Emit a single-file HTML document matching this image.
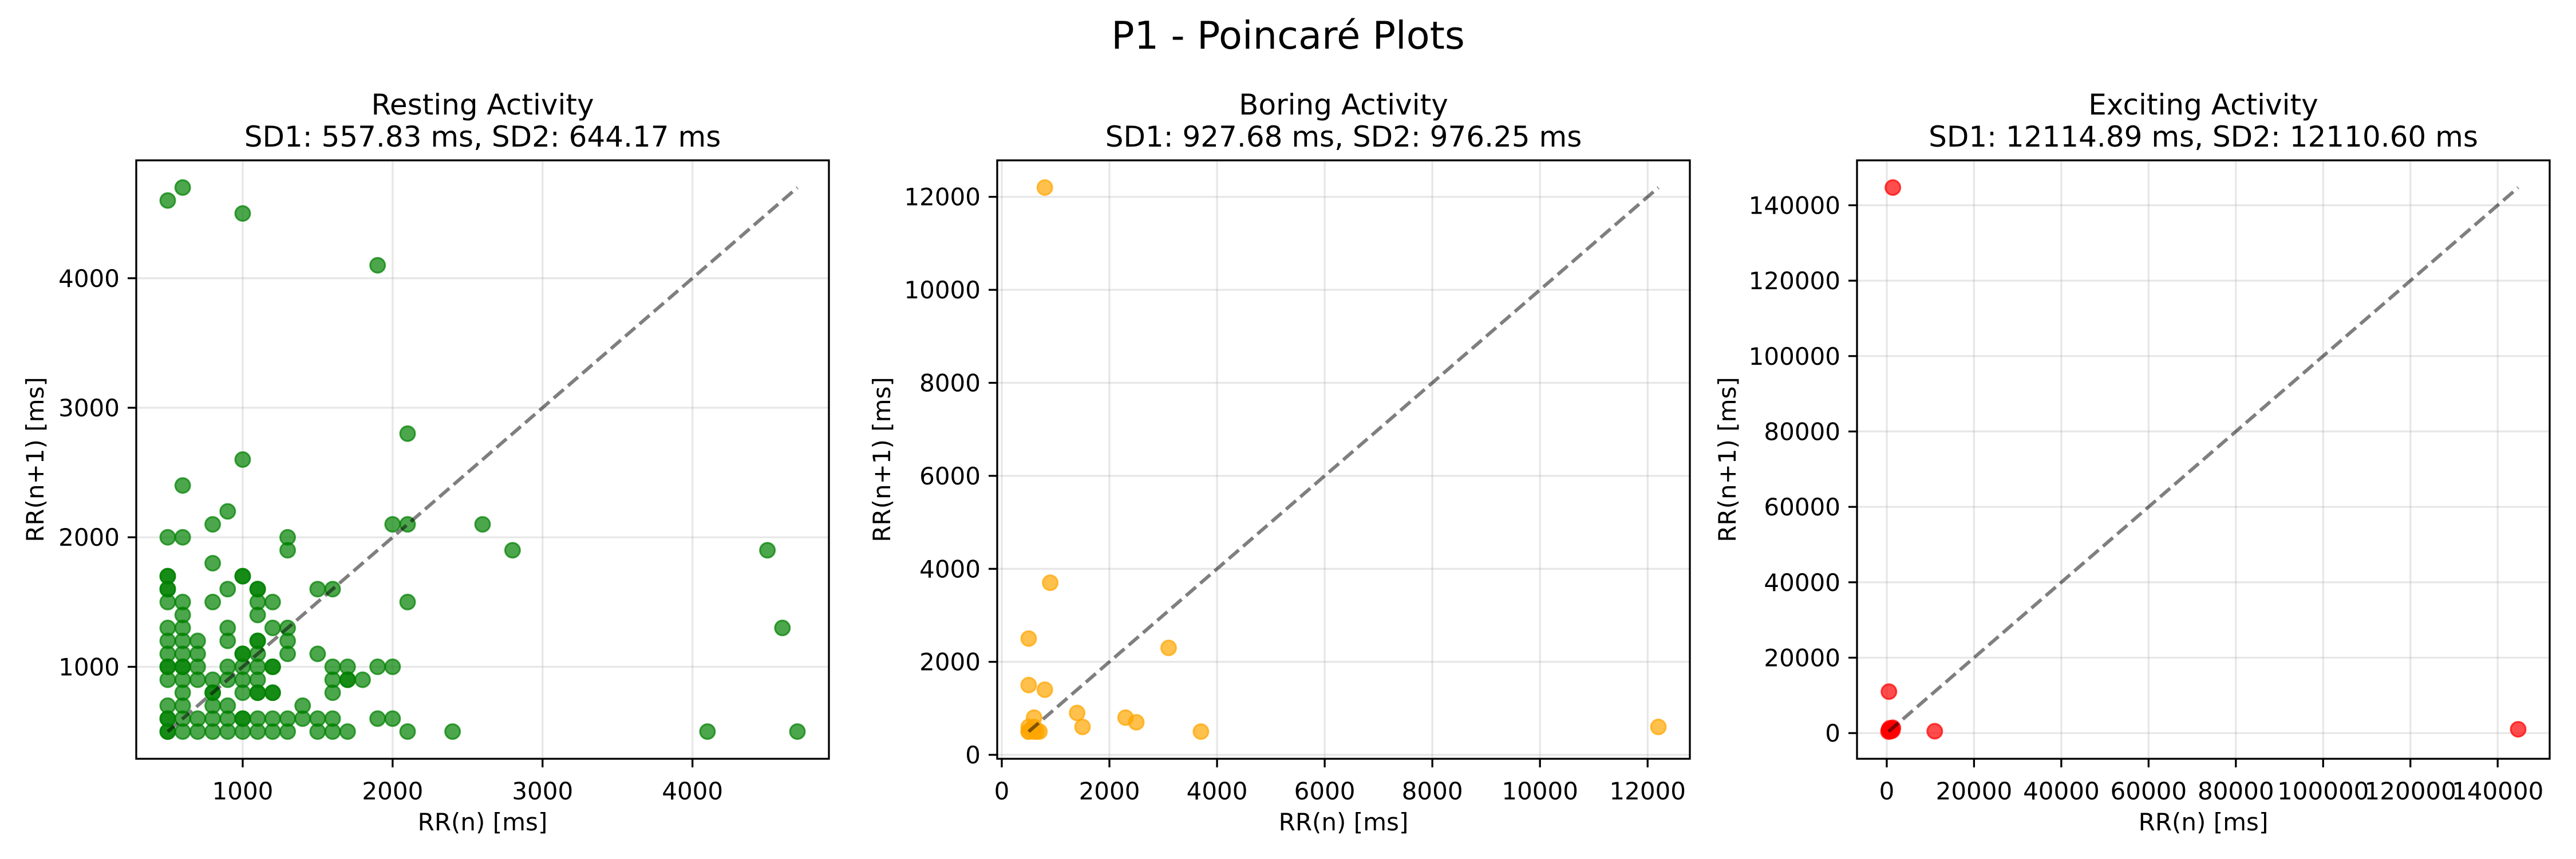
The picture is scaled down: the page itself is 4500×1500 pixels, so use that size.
<!DOCTYPE html>
<html><head><meta charset="utf-8">
<style>
html,body{margin:0;padding:0;background:#fff;}
svg{display:block;font-family:"DejaVu Sans","Liberation Sans",sans-serif;}
</style></head>
<body>
<svg id="chart" width="4500" height="1500" viewBox="0 0 4500 1500" xmlns="http://www.w3.org/2000/svg">
<rect width="4500" height="1500" fill="#fff"/>
<text x="2250" y="85" font-size="67" text-anchor="middle">P1 - Poincaré Plots</text>
</svg>
<script>
// ---- Panel 1: Resting ----
const restX = [500,600,1000,1900,2100,1000,600,900,800,2000,2100,2600,500,600,1300,1300,2800,4500,800,500,500,1000,1000,500,500,900,1100,1100,1500,1600,500,600,800,1100,1200,2100,600,1100,500,600,900,1200,1300,4600,500,600,700,900,1100,1100,1300,500,600,700,1000,1000,1100,1300,1500,500,500,600,600,700,900,1000,1100,1200,1200,1600,1700,1900,2000,500,600,700,800,900,1000,1100,1600,1700,1700,1800,600,800,800,1000,1100,1100,1200,1200,1600,500,600,800,900,1400,500,500,600,700,800,900,1000,1000,1100,1200,1300,1400,1500,1600,1900,2000,500,500,600,700,800,900,1000,1100,1200,1300,1500,1600,1700,2100,2400,4100,4700];
const restY = [4600,4700,4500,4100,2800,2600,2400,2200,2100,2100,2100,2100,2000,2000,2000,1900,1900,1900,1800,1700,1700,1700,1700,1600,1600,1600,1600,1600,1600,1600,1500,1500,1500,1500,1500,1500,1400,1400,1300,1300,1300,1300,1300,1300,1200,1200,1200,1200,1200,1200,1200,1100,1100,1100,1100,1100,1100,1100,1100,1000,1000,1000,1000,1000,1000,1000,1000,1000,1000,1000,1000,1000,1000,900,900,900,900,900,900,900,900,900,900,900,800,800,800,800,800,800,800,800,800,700,700,700,700,700,600,600,600,600,600,600,600,600,600,600,600,600,600,600,600,600,500,500,500,500,500,500,500,500,500,500,500,500,500,500,500,500,500];
const restXTicks = [1000,2000,3000,4000];
const restYTicks = [1000,2000,3000,4000];
// ---- Panel 2: Boring ----
const boreX = [800,900,500,3100,500,800,1400,2300,2500,600,1500,3700,12200,500,500,600,700,550,500,600,650];
const boreY = [12200,3700,2500,2300,1500,1400,900,800,700,800,600,500,600,500,600,500,500,550,500,600,500];
const boreTicks = [0,2000,4000,6000,8000,10000,12000];
// ---- Panel 3: Exciting ----
const excX = [1400,500,11000,144700,400,600,800,1000,1200,1400,500,900,1300,700];
const excY = [144700,11000,500,1000,400,600,800,1000,1200,1400,900,500,700,1300];
const excTicks = [0,20000,40000,60000,80000,100000,120000,140000];

const NS = "http://www.w3.org/2000/svg";
const svg = document.getElementById('chart');
function mk(tag, attrs, parent){
  const e = document.createElementNS(NS, tag);
  for (const k in attrs) e.setAttribute(k, attrs[k]);
  (parent||svg).appendChild(e);
  return e;
}
function lim(arr){ const mn=Math.min(...arr), mx=Math.max(...arr), m=(mx-mn)*0.05; return [mn-m, mx+m]; }

function panel(cfg){
  const L=cfg.left, R=cfg.left+1210, T=280, B=1325;
  const g = mk('g', {});
  
  
  const xl = lim(cfg.x), yl = lim(cfg.y);
  const sx = v => L + (v - xl[0]) / (xl[1]-xl[0]) * (R-L);
  const sy = v => B - (v - yl[0]) / (yl[1]-yl[0]) * (B-T);
  // grid
  cfg.xt.forEach(t => {
    const x = sx(t);
    const ln = mk('line', {x1:x, x2:x, y1:T, y2:B, stroke:'#b0b0b0', 'stroke-opacity':0.3, 'stroke-width':3.3}, g);
    
    
  });
  cfg.yt.forEach(t => {
    const y = sy(t);
    const ln = mk('line', {x1:L, x2:R, y1:y, y2:y, stroke:'#b0b0b0', 'stroke-opacity':0.3, 'stroke-width':3.3}, g);
    
    
  });
  // points
  for (let i=0;i<cfg.x.length;i++){
    const c = mk('circle', {cx:sx(cfg.x[i]), cy:sy(cfg.y[i]), r:13, fill:cfg.color, 'fill-opacity':0.7, stroke:cfg.color, 'stroke-opacity':0.7, 'stroke-width':3}, g);
    
    
  }
  // identity line
  const mn = Math.min(...cfg.x), mx = Math.max(...cfg.x);
  const id = mk('line', {x1:sx(mn), y1:sy(mn), x2:sx(mx), y2:sy(mx), stroke:'#000', 'stroke-opacity':0.5, 'stroke-width':6, 'stroke-dasharray':'23 10'}, g);
  
  
  // frame
  const fr = mk('rect', {x:L, y:T, width:R-L, height:B-T, fill:'none', stroke:'#000', 'stroke-width':3.3}, g);
  
  
  // ticks
  cfg.xt.forEach(t => {
    const x = sx(t);
    mk('line', {x1:x, x2:x, y1:B, y2:B+15, stroke:'#000', 'stroke-width':3.3}, g);
    const tx = mk('text', {x:x, y:1396, 'font-size':42, 'text-anchor':'middle'}, g);
    
    
    tx.textContent = t;
  });
  cfg.yt.forEach(t => {
    const y = sy(t);
    mk('line', {x1:L-15, x2:L, y1:y, y2:y, stroke:'#000', 'stroke-width':3.3}, g);
    const ty = mk('text', {x:L-29, y:y+15, 'font-size':42, 'text-anchor':'end'}, g);
    
    
    ty.textContent = t;
  });
  const cx = (L+R)/2;
  const t1 = mk('text', {x:cx, y:200, 'font-size':50, 'text-anchor':'middle'}, g);
  
  
  t1.textContent = cfg.title;
  const t2 = mk('text', {x:cx, y:256, 'font-size':50, 'text-anchor':'middle'}, g);
  
  
  t2.textContent = cfg.sub;
  const xlb = mk('text', {x:cx, y:1450, 'font-size':42, 'text-anchor':'middle'}, g);
  
  
  xlb.textContent = 'RR(n) [ms]';
  const yc = (T+B)/2;
  const ylb = mk('text', {x:cfg.ylx, y:yc, 'font-size':42, 'text-anchor':'middle', transform:`rotate(-90 ${cfg.ylx} ${yc})`}, g);
  
  
  ylb.textContent = 'RR(n+1) [ms]';
}
panel({name:'resting-panel', left:238, x:restX, y:restY, xt:restXTicks, yt:restYTicks, color:'#008000', title:'Resting Activity', sub:'SD1: 557.83 ms, SD2: 644.17 ms', ylx:76});
panel({name:'boring-panel', left:1742, x:boreX, y:boreY, xt:boreTicks, yt:boreTicks, color:'#FFA500', title:'Boring Activity', sub:'SD1: 927.68 ms, SD2: 976.25 ms', ylx:1555});
panel({name:'exciting-panel', left:3244, x:excX, y:excY, xt:excTicks, yt:excTicks, color:'#FF0000', title:'Exciting Activity', sub:'SD1: 12114.89 ms, SD2: 12110.60 ms', ylx:3032});
</script>
</body></html>
